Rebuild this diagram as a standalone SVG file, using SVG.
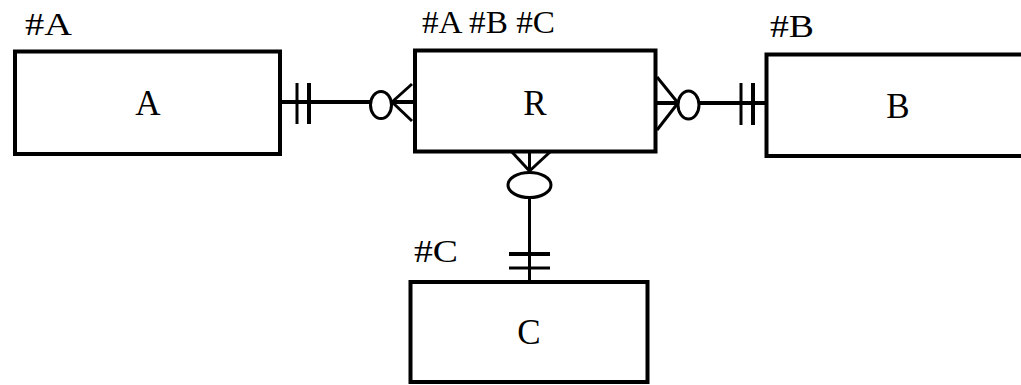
<svg xmlns="http://www.w3.org/2000/svg" width="1021" height="385" viewBox="0 0 1021 385">
<style>
.box{fill:#fff;stroke:#000;stroke-width:4}
.lbl{font-family:"Liberation Serif","Times New Roman",serif;fill:#000}
.hdr{font-size:31px}
.ctr{font-size:35px;text-anchor:middle}
.ln{fill:none;stroke:#000;stroke-width:4}
.thin{fill:none;stroke:#000;stroke-width:3}
.oval{fill:#fff;stroke:#000;stroke-width:3}
</style>
<rect width="1021" height="385" fill="#fff"/>
<g id="connectors">
  <!-- A - R -->
  <line class="ln" x1="282" y1="102" x2="370" y2="102"/>
  <line class="thin" x1="297" y1="83" x2="297" y2="124"/>
  <line class="ln" x1="309" y1="83" x2="309" y2="124"/>
  <ellipse class="oval" cx="381" cy="105" rx="10.5" ry="13.5"/>
  <line class="ln" x1="392" y1="102" x2="413" y2="102"/>
  <line class="thin" x1="392" y1="102" x2="412" y2="84"/>
  <line class="thin" x1="392" y1="102" x2="412" y2="121"/>
  <!-- R - B -->
  <line class="ln" x1="657" y1="103" x2="678" y2="103"/>
  <line class="thin" x1="657" y1="77" x2="678" y2="103"/>
  <line class="thin" x1="657" y1="130" x2="678" y2="103"/>
  <ellipse class="oval" cx="688.5" cy="105" rx="10.5" ry="14"/>
  <line class="ln" x1="699" y1="103" x2="765" y2="103"/>
  <line class="thin" x1="741" y1="83" x2="741" y2="125"/>
  <line class="ln" x1="753" y1="83" x2="753" y2="125"/>
  <!-- R - C -->
  <line class="thin" x1="529.5" y1="145" x2="529.5" y2="172"/>
  <line class="thin" x1="512" y1="152" x2="529.5" y2="171"/>
  <line class="thin" x1="550" y1="152" x2="529.5" y2="171"/>
  <ellipse class="oval" cx="529.5" cy="185" rx="21.5" ry="12.5"/>
  <line class="thin" x1="529.5" y1="198" x2="529.5" y2="285"/>
  <line class="ln" x1="509" y1="254" x2="550" y2="254"/>
  <line class="thin" x1="509" y1="268" x2="550" y2="268"/>
</g>
<g id="node-A">
  <rect class="box" x="15" y="51.5" width="265" height="102.5"/>
  <text class="lbl hdr" x="25" y="35" textLength="47" lengthAdjust="spacingAndGlyphs">#A</text>
  <text class="lbl ctr" x="148" y="115">A</text>
</g>
<g id="node-R">
  <rect class="box" x="415" y="50.5" width="240.5" height="101"/>
  <text class="lbl hdr" x="422" y="33" textLength="133" lengthAdjust="spacingAndGlyphs">#A #B #C</text>
  <text class="lbl ctr" x="535" y="115">R</text>
</g>
<g id="node-B">
  <rect class="box" x="766.5" y="54.5" width="270" height="101.5"/>
  <text class="lbl hdr" x="770" y="37" textLength="44" lengthAdjust="spacingAndGlyphs">#B</text>
  <text class="lbl ctr" x="898" y="118">B</text>
</g>
<g id="node-C">
  <rect class="box" x="410.5" y="282" width="237" height="100"/>
  <text class="lbl hdr" x="414" y="262" textLength="44" lengthAdjust="spacingAndGlyphs">#C</text>
  <text class="lbl ctr" x="529" y="344">C</text>
</g>
</svg>
